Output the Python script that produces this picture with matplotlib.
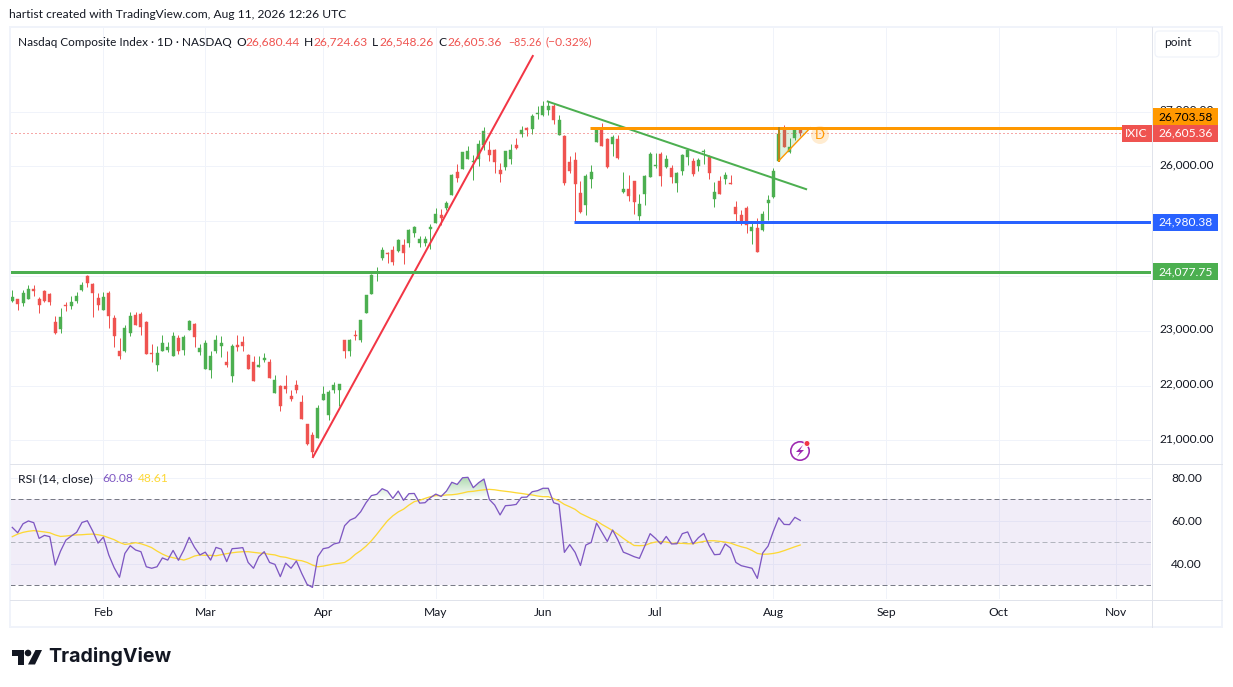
import numpy as np
import matplotlib
matplotlib.use('Agg')
import matplotlib.pyplot as plt
from matplotlib.colors import LinearSegmentedColormap
from matplotlib.patches import Circle, FancyBboxPatch, PathPatch, Polygon, Rectangle
from matplotlib.path import Path
from matplotlib.transforms import ScaledTranslation

W, H = 1233, 687
plt.rcParams['font.family'] = ['Lato', 'DejaVu Sans']

# daily candles
opens = [
    23536, 23573, 23500, 23573, 23756, 23573, 23719, 23665, 23152, 23024,
    23463, 23445, 23536, 23738, 23994, 23847, 23591, 23372, 23683, 23225,
    22621, 22621, 22951, 23280, 23298, 23152, 22585, 22383, 22621, 22640,
    22530, 22859, 22640, 23006, 23115, 22603, 22310, 22292, 22621, 22713,
    22438, 22182, 22731, 22786, 22548, 22438, 22329, 22457, 22438, 21871,
    21999, 21999, 21816, 22017, 21706, 21304, 21103, 21048, 21743, 21468,
    21926, 21926,
    22835, 22634, 22926, 22835, 23327, 23674, 24075, 24331, 24422, 24477,
    24458, 24568, 24604, 24787, 24604, 24604, 24860, 24969, 25115, 25243,
    25480, 25899, 25954, 26136, 26082, 26136, 26392, 26301, 26301, 25936,
    25990, 26136, 26392, 26592, 26702, 26684, 26957, 26939, 27030, 27103,
    26574, 26556, 26082, 26118, 25516, 25297, 25772, 26447, 26665, 26501,
    26410, 26501, 25535, 25589, 25735, 25097, 25498, 25808, 26009, 26228,
    25990, 25972, 25699, 25918, 26173, 26100, 26009, 26264, 26173, 25407,
    25735, 25772, 25699, 25261, 25115, 25243, 24823, 24878, 24841, 25334,
    25443, 26100, 26684, 26264, 26520, 26680.44,
]
highs = [
    23738, 23573, 23738, 23829, 23829, 23610, 23738, 23683, 23262, 23408,
    23518, 23628, 23701, 23884, 24012, 23866, 23683, 23701, 23719, 23280,
    22859, 23097, 23335, 23335, 23335, 23170, 22750, 22713, 22914, 22786,
    22969, 22914, 22914, 23189, 23134, 22750, 22823, 22621, 22914, 22896,
    22621, 22750, 22914, 22896, 22567, 22530, 22530, 22585, 22475, 22200,
    22017, 22200, 21926, 22109, 21835, 21304, 21157, 21651, 21999, 21926,
    22072, 22036,
    22835, 22853, 23017, 23200, 23656, 24039, 24167, 24531, 24440, 24550,
    24677, 24677, 24860, 24914, 24732, 24732, 24951, 25243, 25224, 25370,
    25863, 26045, 26264, 26374, 26209, 26483, 26720, 26465, 26319, 26063,
    26282, 26410, 26520, 26738, 26720, 26957, 27103, 27194, 27194, 27140,
    26939, 26574, 26191, 26264, 25735, 25863, 26027, 26720, 26793, 26520,
    26574, 26574, 25899, 25845, 25735, 25498, 25845, 26264, 26246, 26264,
    26209, 26027, 25899, 26228, 26319, 26155, 26155, 26319, 26209, 25717,
    25826, 25899, 25845, 25370, 25206, 25279, 24969, 25060, 25188, 25480,
    25972, 26696, 26757, 26520, 26714, 26724.63,
]
lows = [
    23518, 23372, 23445, 23573, 23628, 23317, 23518, 23463, 22933, 22951,
    23353, 23390, 23500, 23719, 23793, 23244, 23372, 23372, 23042, 22695,
    22475, 22603, 22896, 23097, 22914, 22567, 22420, 22274, 22621, 22603,
    22530, 22567, 22548, 23006, 22695, 22548, 22310, 22146, 22585, 22512,
    22347, 22072, 22621, 22621, 22310, 22091, 22329, 22420, 22146, 21871,
    21542, 21871, 21725, 21871, 21395, 20920, 20706, 21048, 21743, 21377,
    21871, 21621,
    22507, 22543, 22835, 22799, 23327, 23674, 23911, 24294, 24239, 24203,
    24440, 24221, 24531, 24714, 24531, 24550, 24495, 24969, 24933, 25206,
    25480, 25717, 25954, 26136, 25753, 26009, 26301, 26100, 25881, 25717,
    25936, 26045, 26319, 26538, 26556, 26592, 26866, 26921, 26939, 26775,
    26574, 25662, 25881, 24987, 25152, 25115, 25608, 26447, 26374, 25972,
    26191, 26136, 25516, 25370, 25133, 25024, 25297, 25808, 25972, 25644,
    25972, 25699, 25535, 25845, 26027, 25826, 25918, 26045, 25772, 25261,
    25498, 25680, 25680, 24987, 24933, 24787, 24586, 24440, 24823, 25024,
    25425, 26100, 26355, 26246, 26483, 26548.26,
]
closes = [
    23610, 23481, 23683, 23756, 23719, 23463, 23536, 23518, 22951, 23244,
    23445, 23518, 23628, 23829, 23866, 23683, 23463, 23610, 23262, 22896,
    22530, 23042, 23262, 23097, 23061, 22579, 22567, 22585, 22768, 22695,
    22896, 22621, 22878, 23170, 22878, 22676, 22768, 22530, 22823, 22768,
    22383, 22713, 22695, 22713, 22310, 22091, 22383, 22493, 22146, 22109,
    21633, 21944, 21761, 21926, 21395, 20938, 20791, 21597, 21853, 21889,
    22017, 22036,
    22634, 22835, 22908, 23200, 23656, 24021, 24075, 24477, 24404, 24258,
    24659, 24422, 24841, 24896, 24677, 24677, 24896, 25133, 25060, 25334,
    25845, 25790, 26264, 26282, 26100, 26410, 26641, 26209, 26082, 25863,
    26282, 26301, 26337, 26665, 26665, 26921, 26975, 27103, 27103, 26848,
    26848, 25699, 25918, 25680, 25170, 25826, 25899, 26696, 26374, 25990,
    26538, 26155, 25589, 25462, 25352, 25316, 25826, 26228, 26027, 25826,
    26136, 25808, 25881, 26209, 26301, 25863, 26118, 26282, 25881, 25535,
    25498, 25845, 25680, 25133, 25006, 24933, 24896, 24440, 25133, 25389,
    25918, 26592, 26355, 26355, 26684, 26605.36,
]

rsi = [
    56.8, 54.3, 58.5, 59.8, 59.0, 51.7, 53.1, 52.5, 39.3, 45.8,
    50.9, 52.8, 54.5, 59.1, 59.9, 55.1, 49.5, 52.3, 44.0, 38.1,
    33.6, 44.7, 48.3, 46.3, 45.5, 38.5, 37.8, 38.5, 42.6, 41.6,
    46.1, 41.5, 46.3, 52.2, 47.5, 44.0, 45.3, 41.6, 47.5, 46.7,
    40.9, 46.9, 47.1, 47.4, 40.5, 37.8, 43.2, 45.5, 40.5, 39.6,
    33.9, 40.2, 37.8, 41.2, 35.4, 30.3, 28.9, 43.2, 46.9, 47.4,
    49.1, 49.7, 57.6, 60.2, 61.3, 64.1, 68.3, 71.6, 72.2, 74.8,
    73.7, 70.3, 73.7, 69.4, 72.5, 72.6, 68.1,
    68.3, 70.6, 72.3, 71.2, 73.7, 77.8, 76.8, 79.9, 80.1, 75.3,
    77.6, 79.3, 69.8, 67.2, 62.6, 66.9, 67.1, 67.5, 70.8, 70.9,
    73.4, 73.9, 75.0, 75.0, 68.3, 67.5, 45.2, 48.8, 45.2, 39.1,
    48.6, 49.8, 58.8, 54.5, 50.3, 55.6, 50.9, 45.3, 44.3, 43.2,
    42.4, 48.1, 53.9, 51.7, 49.1, 52.6, 49.1, 49.2, 53.9, 54.7,
    49.1, 52.0, 54.0, 48.4, 44.1, 44.3, 49.1, 47.2, 40.5, 39.0,
    38.4, 37.8, 33.1, 44.9, 48.1, 55.1, 61.3, 58.2, 58.1, 61.5, 60.08,
]
rsi_ma = [
    52.5, 53.7, 54.5, 55.0, 55.3, 55.0, 54.7, 54.3, 53.3, 52.6,
    52.8, 53.1, 53.3, 53.4, 53.6, 53.7, 53.4, 52.9, 52.0, 51.1,
    49.8, 48.9, 49.2, 49.7, 49.2, 48.4, 47.4, 45.8, 44.4, 43.3,
    42.7, 42.2, 41.6, 42.4, 43.5, 44.0, 43.8, 43.8, 43.6, 44.1,
    44.6, 45.0, 45.3, 45.5, 45.5, 45.2, 44.9, 44.7, 44.3, 44.0,
    43.2, 42.9, 42.2, 41.6, 41.3, 40.5, 39.3, 38.5, 38.8, 39.3,
    39.8, 40.1, 40.5, 42.1, 44.3, 46.0, 48.1, 50.6, 53.6, 56.8,
    59.9, 62.2, 64.0, 65.3, 67.2, 68.8, 69.4,
    70.3, 71.1, 71.6, 71.6, 71.9, 72.0, 72.3, 72.8, 73.4, 73.6,
    74.0, 74.3, 74.5, 74.3, 73.9, 73.6, 73.3, 72.9, 72.6, 72.2,
    71.9, 71.4, 71.1, 71.1, 70.2, 69.1, 67.5, 66.4, 65.2, 63.3,
    62.1, 60.9, 59.9, 58.2, 56.8, 55.3, 53.6, 51.7, 50.0, 48.4,
    48.3, 48.4, 49.4, 50.0, 50.2, 50.0, 49.5, 49.4, 49.4, 49.2,
    49.2, 49.8, 50.3, 50.6, 50.6, 50.3, 50.0, 49.5, 48.6, 47.8,
    47.2, 46.1, 44.7, 44.3, 44.4, 44.7, 45.2, 46.0, 46.9, 47.8, 48.61,
]

month_ticks = [17, 36, 58, 79, 99, 120, 142, 163, 184, 206]
month_labels = ['Feb', 'Mar', 'Apr', 'May', 'Jun', 'Jul', 'Aug', 'Sep', 'Oct', 'Nov']
price_ticks = [21000, 22000, 23000, 24000, 25000, 26000, 27000]
price_labels = ['21,000.00', '22,000.00', '23,000.00', '', '', '26,000.00', '27,000.00']
rsi_ticks = [40, 60, 80]
rsi_labels = ['40.00', '60.00', '80.00']

last_close = 26605.36
green_level = 24077.75
blue_level = 24980.38
orange_level = 26703.58
red_trend_x, red_trend_y = [56.1, 97.1], [20695, 28013]
green_trend_x, green_trend_y = [99.9, 148.1], [27182, 25583]
blue_start, orange_start = 104.8, 107.8
triangle_x = [143.0, 143.0, 148.9]
triangle_y = [26100, orange_level, orange_level]

GREEN, RED, BLUE, ORANGE = '#4caf50', '#ef5350', '#2962ff', '#ff9800'
PURPLE, YELLOW = '#7e57c2', '#fdd835'
GRID, SEP, TXT = '#f0f3fa', '#e0e3eb', '#131722'

PX = 72 / 100  # one pixel in points


def pane(x0, y0, x1, y1):
    return fig.add_axes([x0 / W, 1 - y1 / H, (x1 - x0) / W, (y1 - y0) / H])


fig = plt.figure(figsize=(W / 100, H / 100), dpi=100, facecolor='white')

# ---- price pane ----
ax = pane(10, 27, 1151, 463.5)
x = np.arange(len(closes))
o, h, l, c = map(np.array, (opens, highs, lows, closes))
colors = [GREEN if cc >= oo else RED for oo, cc in zip(o, c)]
ax.vlines(x, l, h, colors=colors, lw=1 * PX, zorder=3)
ax.bar(x, np.abs(c - o), bottom=np.minimum(o, c), width=0.56, color=colors,
       edgecolor=colors, lw=0.3, zorder=3)

ax.plot([-1, 207], [last_close] * 2, color=RED, lw=1 * PX, ls=(0, (1, 3)), zorder=4)
ax.plot(red_trend_x, red_trend_y, color='#f23645', lw=2 * PX, zorder=5)
ax.plot(green_trend_x, green_trend_y, color=GREEN, lw=2 * PX, zorder=5)
ax.plot([-1, 300], [green_level] * 2, color=GREEN, lw=3 * PX, zorder=5, solid_capstyle='butt')
ax.plot([blue_start, 300], [blue_level] * 2, color=BLUE, lw=3 * PX, zorder=5, solid_capstyle='butt')
ax.plot([orange_start, 300], [orange_level] * 2, color=ORANGE, lw=3 * PX, zorder=5, solid_capstyle='butt')

# pattern triangle
ax.fill(triangle_x, triangle_y, color=GREEN, alpha=0.18, lw=0, zorder=4)
ax.plot(triangle_x[:2], triangle_y[:2], color='#b9851a', lw=2 * PX, zorder=5)
ax.plot([triangle_x[2], triangle_x[0]], [triangle_y[2], triangle_y[0]], color=ORANGE, lw=1.4 * PX, zorder=5)

ax.set_xlim((10 - 12.3) / 5.36, (1151 - 12.3) / 5.36)
ax.set_ylim(20577, 28542)
ax.set_xticks(month_ticks)
ax.set_yticks(price_ticks)
ax.set_yticklabels(price_labels)
ax.yaxis.tick_right()
ax.tick_params(axis='x', length=0, labelbottom=False)
ax.tick_params(axis='y', length=0, pad=5.8, labelsize=12 * PX, labelcolor=TXT)
# the price labels sit a little above their grid lines
lift = ScaledTranslation(0, 2.5 * PX / 72, fig.dpi_scale_trans)
for t in ax.get_yticklabels():
    t.set_transform(t.get_transform() + lift)
ax.grid(color=GRID, lw=1 * PX, zorder=0)
ax.set_axisbelow(True)
for s in ax.spines.values():
    s.set_visible(False)

# ---- RSI pane ----
ax2 = pane(10, 464, 1151, 599)
ax2.axhspan(30, 70, color=PURPLE, alpha=0.1, lw=0, zorder=1)
rsi_arr = np.array(rsi)
band = ax2.fill_between(x, rsi_arr, 70, where=rsi_arr > 70, interpolate=True, color='none')
cmap = LinearSegmentedColormap.from_list('fade', ['#ffffff', '#d6ebd7', '#a5d6a7'])
img = ax2.imshow(np.linspace(0, 1, 64)[:, None], extent=[0, 147, 70, 81], origin='lower',
                 aspect='auto', cmap=cmap, zorder=1.5)
img.set_clip_path(PathPatch(Path.make_compound_path(*band.get_paths()), transform=ax2.transData))
ax2.axhline(70, color='#787b86', lw=1 * PX, ls=(0, (5, 3)), zorder=2)
ax2.axhline(50, color='#b2b5be', lw=1 * PX, ls=(0, (5, 3)), zorder=2)
ax2.axhline(30, color='#787b86', lw=1 * PX, ls=(0, (5, 3)), zorder=2)
ax2.plot(x, rsi, color=PURPLE, lw=1.3 * PX, zorder=4)
ax2.plot(x, rsi_ma, color=YELLOW, lw=1.3 * PX, zorder=3)
ax2.set_xlim(ax.get_xlim())
ax2.set_ylim(23.5, 86.3)
ax2.set_xticks(month_ticks)
ax2.set_xticklabels(month_labels)
ax2.set_yticks(rsi_ticks)
ax2.set_yticklabels(rsi_labels)
ax2.yaxis.tick_right()
ax2.tick_params(axis='x', length=0, pad=5.5, labelsize=12 * PX, labelcolor=TXT)
ax2.tick_params(axis='y', length=0, pad=6.5 + 11 * PX, labelsize=12 * PX, labelcolor=TXT)
ax2.grid(color=GRID, lw=1 * PX, zorder=0)
ax2.set_axisbelow(True)
for s in ax2.spines.values():
    s.set_visible(False)

# ---- frame, legends and price tags, drawn in pixels ----
ov = fig.add_axes([0, 0, 1, 1], facecolor='none', zorder=10)
ov.set_xlim(0, W)
ov.set_ylim(H, 0)
ov.axis('off')


def price_y(v):
    return H - ax.transData.transform((0, v))[1]


def label(px, py, s, color=TXT, size=12, **kw):
    kw.setdefault('ha', 'left')
    ov.text(px, py, s, color=color, fontsize=size * PX, va='center', **kw)


ov.add_patch(Rectangle((10, 27), 1212, 600, fill=False, ec=GRID, lw=2 * PX))
ov.plot([1151.5, 1151.5], [27, 627], color=SEP, lw=1 * PX)
ov.plot([10, 1222], [463.5, 463.5], color=SEP, lw=1 * PX)
ov.plot([10, 1222], [599.5, 599.5], color=SEP, lw=1 * PX)

ov.add_patch(FancyBboxPatch((1158, 34), 58, 20, boxstyle='round,pad=3,rounding_size=4',
                            fc='white', ec=GRID, lw=1.2 * PX))
label(1164, 43, 'point')


def tag(v, color, text_color, cy=None):
    cy = price_y(v) if cy is None else cy
    ov.add_patch(Rectangle((1152, cy - 8.4), 66, 16.8, fc=color, ec='none'))
    label(1186, cy, f'{v:,.2f}', color=text_color, ha='center')


tag(orange_level, ORANGE, '#000000', cy=116.5)
tag(last_close, RED, 'white')
tag(blue_level, BLUE, 'white')
tag(green_level, GREEN, 'white')
cy = price_y(last_close)
ov.add_patch(Rectangle((1122, cy - 8.4), 30, 16.8, fc=RED, ec='none'))
label(1136.5, cy, 'IXIC', color='white', ha='center')

label(9, 15, 'hartist created with TradingView.com, Aug 11, 2026 12:26 UTC')
label(18, 42, 'Nasdaq Composite Index · 1D · NASDAQ', size=11.8)
for px, s in [(236, 'O'), (304, 'H'), (372, 'L'), (438, 'C')]:
    label(px, 42, s)
for px, s in [(245, '26,680.44'), (313, '26,724.63'), (379, '26,548.26'), (447, '26,605.36')]:
    label(px, 42, s, color=RED)
label(508, 42, '−85.26', color=RED, size=10.6)
label(546, 42, '(−0.32%)', color=RED)
label(18, 479, 'RSI (14, close)', size=12.2)
label(102, 479, '60.08', color=PURPLE)
label(138, 479, '48.61', color=YELLOW)

# "D" pattern point
ov.add_patch(Circle((820, 135), 9, fc=ORANGE, alpha=0.18, ec='none'))
label(820, 135, 'D', color=ORANGE, size=13, ha='center')

# events icon
ov.add_patch(Circle((800, 451), 9.2, fill=False, ec='#9c27b0', lw=1.6 * PX))
ov.add_patch(Polygon([(803, 445), (796, 452), (800, 452), (797, 457), (804, 450), (800, 450)],
                     fc='#9c27b0', ec='none'))
ov.add_patch(Circle((807, 443.5), 3, fc='#f23645', ec='white', lw=1 * PX))

# TradingView logo
ov.add_patch(Polygon([(12.3, 650), (24.3, 650), (24.3, 664.5), (18.3, 664.5), (18.3, 656), (12.3, 656)],
                     fc=TXT, ec='none'))
ov.add_patch(Circle((28, 653), 3.3, fc=TXT, ec='none'))
ov.add_patch(Polygon([(35.5, 650), (42, 650), (35, 664.5), (28, 664.5)], fc=TXT, ec='none'))
ov.text(48, 657, 'TradingView', color=TXT, fontsize=19.6 * PX, fontweight='bold', family='Inter',
        va='center', ha='left')

fig.savefig('out.png', dpi=100)
